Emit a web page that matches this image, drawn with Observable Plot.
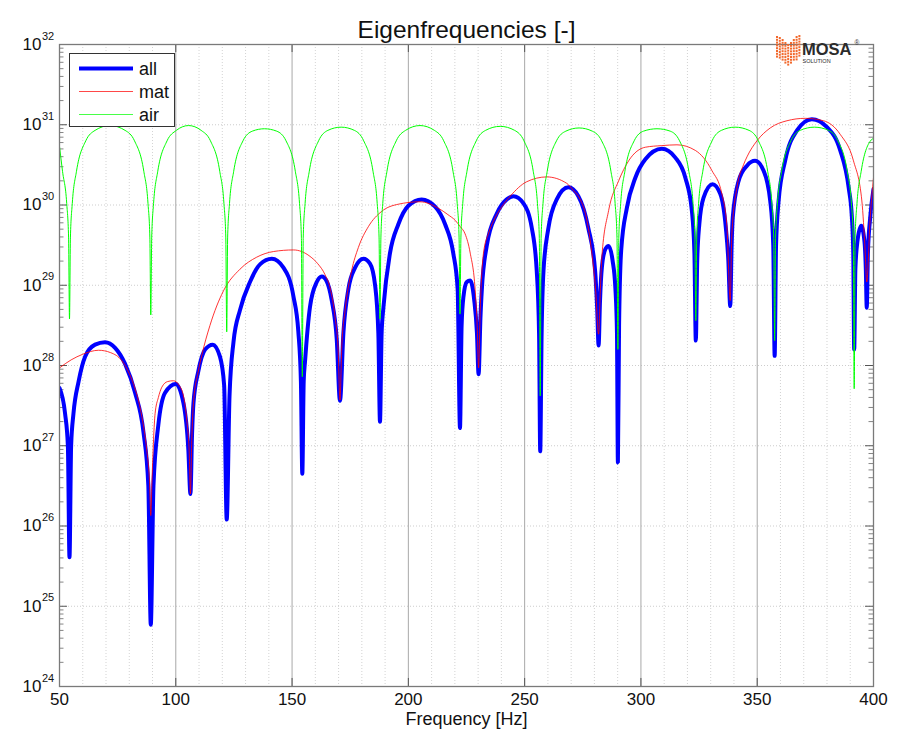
<!DOCTYPE html>
<html>
<head>
<meta charset="utf-8">
<script src="https://cdn.jsdelivr.net/npm/d3@7"></script>
<script src="https://cdn.jsdelivr.net/npm/@observablehq/plot@0.6"></script>
<style>
  html, body { margin: 0; padding: 0; background: #fff; }
  #wrap { position: relative; width: 899px; height: 736px; font-family: "Liberation Sans", Arial, sans-serif; }
  #legend { position: absolute; left: 69px; top: 53px; width: 106px; height: 74px; background: #fff; border: 1px solid #333; box-sizing: border-box; }
  #logo { position: absolute; left: 775px; top: 33px; width: 100px; height: 36px; }
</style>
</head>
<body>
<div id="wrap"></div>
<script>
// ---- Data (frequency in Hz, value as log10 exponent) ----
const allHz = [50,52.4,53.6,54.3,55.0,56.0,58.2,61.0,65.3,69.6,73.9,78.2,82.5,86.1,88.2,89.25,90.4,92.5,95.4,100.0,103.3,105.4,106.3,107.0,107.6,109.7,112.6,115.9,119.0,120.8,121.9,123.1,124.8,127.6,131.9,136.2,141.3,146.3,150.6,152.7,153.8,154.4,155.0,155.6,157.7,160.6,162.8,164.9,167.0,169.2,170.6,172.1,174.2,177.1,180.7,183.5,185.7,187.1,187.8,188.5,189.3,192.1,195.7,200.0,205.7,211.5,215.8,219.3,221.2,222.2,222.9,223.7,225.1,226.6,228.3,229.5,230.2,231.0,231.6,233.7,238.0,242.3,245.2,249.5,253.1,255.2,256.2,256.7,257.3,258.1,260.2,263.8,268.8,273.1,277.4,280.3,281.2,281.8,282.4,283.2,284.7,286.1,287.8,289.0,289.7,290.1,290.6,291.5,294.0,297.6,301.9,309.0,314.8,319.1,321.9,323.0,323.6,324.2,325.1,326.9,330.8,334.1,336.5,337.6,338.4,339.0,339.5,342.0,345.6,349.1,352.7,355.6,356.9,357.5,358.1,359.2,362.0,367.1,373.5,380.0,385.7,389.3,390.7,391.3,391.7,392.2,393.1,394.7,396.1,396.7,397.1,397.6,398.6,400];
const allLog = [27.72,27.40,27.0,25.61,27.0,27.40,27.80,28.11,28.26,28.29,28.22,28.02,27.66,27.17,26.50,24.77,26.5,27.26,27.66,27.77,27.53,26.95,26.40,27.15,27.53,27.93,28.2,28.26,28.11,27.75,26.08,27.62,28.29,28.69,29.04,29.26,29.33,29.22,28.86,28.42,27.8,26.65,27.8,28.06,28.73,29.04,29.11,29.05,28.82,28.33,27.56,28.42,28.95,29.22,29.33,29.27,29.0,28.4,27.30,28.4,28.73,29.40,29.76,29.99,30.07,29.98,29.76,29.40,28.95,27.22,28.5,28.86,29.04,29.06,28.82,28.4,27.89,28.6,28.95,29.49,29.89,30.07,30.11,30.02,29.71,29.18,28.4,26.93,28.4,29.18,29.71,30.07,30.22,30.11,29.71,29.18,28.7,28.25,28.8,29.22,29.45,29.49,29.31,28.97,28.4,26.79,28.5,29.43,29.97,30.34,30.57,30.70,30.59,30.34,29.93,29.4,28.31,29.3,29.76,30.09,30.26,30.14,29.72,29.3,28.74,29.5,29.85,30.30,30.49,30.55,30.43,30.05,29.5,28.12,29.5,30.05,30.55,30.93,31.07,30.97,30.68,30.22,29.85,29.4,28.20,29.2,29.55,29.74,29.55,29.2,28.72,29.4,29.85,30.2];

const matHz = [50,55,60,66.8,72,76.8,80,82.5,85.5,87.5,88.7,89.25,89.8,91.1,92.5,94.0,96.5,99.0,101.5,103.3,104.8,105.8,106.3,106.9,107.6,109.7,111.2,114.7,120.5,127.6,134.8,142.0,150.6,157.7,161,164.2,166.5,168.5,169.8,170.6,171.4,172.8,175.6,178.5,182.8,188.5,195.7,205.0,212.9,217,220.1,222.3,224.4,226.6,228.7,229.6,230.2,230.9,232.3,234.5,236.6,240,243.8,250.9,259.5,268.1,271,273.9,276.5,278.9,280.5,281.8,282.5,283.2,286.1,290.4,294.7,301.9,309.0,315.5,323.4,330.5,334.8,337.0,338.4,339.1,341.3,344.1,345.6,349.9,355.6,362.8,370.6,378.5,385.7,391.4,395.0,396.4,397.1,398.6,400];
const matLog = [27.97,28.07,28.14,28.19,28.16,28.06,27.9,27.71,27.35,26.95,26.55,26.13,26.6,27.4,27.6,27.73,27.8,27.81,27.75,27.62,27.3,26.9,26.40,27.1,27.53,27.93,28.13,28.5,28.93,29.2,29.35,29.42,29.44,29.36,29.27,29.13,28.95,28.6,28.2,27.57,28.25,28.69,29.18,29.47,29.73,29.92,30.01,30.04,29.96,29.88,29.81,29.73,29.64,29.4,28.95,28.5,27.97,28.7,29.4,29.65,29.8,29.97,30.11,30.29,30.35,30.27,30.18,30.07,29.85,29.4,28.95,28.39,28.9,29.35,29.93,30.30,30.55,30.72,30.74,30.75,30.68,30.43,30.14,29.72,28.81,29.64,30.22,30.5,30.6,30.8,30.96,31.05,31.08,31.05,30.88,30.55,30.05,29.43,29.04,29.85,30.34];

const airHz = [50,51.3,53.1,53.9,54.3,54.7,55.5,57.3,61.3,65.3,71.7,78.2,82.25,86.25,88.05,88.85,89.25,89.65,90.45,92.25,96.25,100.25,105.5,110.9,114.9,118.9,120.7,121.5,121.9,122.3,123.1,124.9,128.9,132.9,138.1,143.4,147.4,151.4,153.2,154.0,154.4,154.8,155.6,157.4,161.4,165.4,171.1,176.8,180.8,184.8,186.6,187.4,187.8,188.2,189.0,190.8,194.8,198.8,205.0,211.2,215.2,219.2,221.0,221.8,222.2,222.6,223.4,225.2,229.2,233.2,239.5,245.7,249.7,253.7,255.5,256.3,256.7,257.1,257.9,259.7,263.7,267.7,273.4,279.1,283.1,287.1,288.9,289.7,290.1,290.5,291.3,293.1,297.1,301.1,306.9,312.6,316.6,320.6,322.4,323.2,323.6,324.0,324.8,326.6,330.6,334.6,340.5,346.5,350.5,354.5,356.3,357.1,357.5,357.9,358.7,360.5,364.5,368.5,374.6,380.7,384.7,388.7,390.5,391.3,391.7,392.1,392.9,394.7,398.7,400];
const airLog = [30.73,30.42,30.02,29.6,28.58,29.6,30.02,30.42,30.8,30.93,30.99,30.93,30.8,30.42,30.02,29.6,28.63,29.6,30.02,30.42,30.8,30.93,30.99,30.93,30.8,30.42,30.02,29.6,28.42,29.6,30.02,30.42,30.8,30.92,30.95,30.92,30.8,30.42,30.02,29.6,27.86,29.6,30.02,30.42,30.8,30.93,30.97,30.93,30.8,30.42,30.02,29.6,28.58,29.6,30.02,30.42,30.8,30.93,30.99,30.93,30.8,30.42,30.02,29.6,28.64,29.6,30.02,30.42,30.8,30.93,30.98,30.93,30.8,30.42,30.02,29.6,27.62,29.6,30.02,30.42,30.8,30.92,30.96,30.92,30.8,30.42,30.02,29.6,28.20,29.6,30.02,30.42,30.8,30.92,30.95,30.92,30.8,30.42,30.02,29.6,28.56,29.6,30.02,30.42,30.8,30.93,30.97,30.93,30.8,30.42,30.02,29.6,28.31,29.6,30.02,30.42,30.8,30.93,30.97,30.93,30.8,30.42,30.02,29.6,27.71,29.6,30.02,30.42,30.8,30.83];

const seriesNames = ["all", "mat", "air"];
const seriesColors = ["#0000ff", "#ff0000", "#00ff00"];
const xTicks = [50, 100, 150, 200, 250, 300, 350, 400];
const xMajorGrid = [100, 150, 200, 250, 300, 350];
const xMinorGrid = [60,70,80,90,110,120,130,140,160,170,180,190,210,220,230,240,260,270,280,290,310,320,330,340,360,370,380,390];
const decadeExps = [24, 25, 26, 27, 28, 29, 30, 31, 32];
const minorMult = [2, 3, 4, 5, 6, 7, 8, 9];
const titleText = "Eigenfrequencies [-]";
const xLabel = "Frequency [Hz]";

// ---- Build tables ----
const toRows = (hz, lg) => hz.map((x, i) => ({hz: x, v: Math.pow(10, lg[i])}));
const allRows = toRows(allHz, allLog);
const matRows = toRows(matHz, matLog);
const airRows = toRows(airHz, airLog);
const decades = decadeExps.map(e => ({e, v: Math.pow(10, e)}));
const minors = [];
decadeExps.slice(0, -1).forEach(e => minorMult.forEach(m => minors.push(m * Math.pow(10, e))));

const tickLenMajorHz = 8 / 2.326, tickLenMinorHz = 4.5 / 2.326;
const gray = "#7a7a7a";

const chart = Plot.plot({
  width: 899, height: 736,
  marginTop: 44, marginLeft: 59, marginRight: 26, marginBottom: 50,
  x: {domain: [50, 400], axis: null},
  y: {type: "log", domain: [1e24, 1e32], axis: null},
  style: {fontFamily: "'Liberation Sans', Arial, sans-serif", background: "white", color: "#222"},
  marks: [
    // grid
    Plot.ruleX(xMinorGrid, {stroke: "#c8c8c8", strokeWidth: 0.8, strokeDasharray: "1,2"}),
    Plot.ruleY(decades, {y: "v", stroke: "#c0c0c0", strokeWidth: 0.8, strokeDasharray: "1,2"}),
    Plot.ruleX(xMajorGrid, {stroke: "#a8a8a8", strokeWidth: 1}),
    // inward ticks
    Plot.ruleX(xTicks, {y1: 1e24, y2: Math.pow(10, 24.1), stroke: "#555", strokeWidth: 1}),
    Plot.ruleX(xTicks, {y1: Math.pow(10, 31.9), y2: 1e32, stroke: "#555", strokeWidth: 1}),
    Plot.ruleY(decades, {y: "v", x1: 50, x2: 50 + tickLenMajorHz, stroke: "#555", strokeWidth: 1}),
    Plot.ruleY(decades, {y: "v", x1: 400 - tickLenMajorHz, x2: 400, stroke: "#555", strokeWidth: 1}),
    Plot.ruleY(minors, {x1: 50, x2: 50 + tickLenMinorHz, stroke: "#666", strokeWidth: 0.8}),
    Plot.ruleY(minors, {x1: 400 - tickLenMinorHz, x2: 400, stroke: "#666", strokeWidth: 0.8}),
    // data
    Plot.line(allRows, {x: "hz", y: "v", stroke: seriesColors[0], strokeWidth: 4, curve: "monotone-x", strokeLinejoin: "bevel", clip: true}),
    Plot.line(matRows, {x: "hz", y: "v", stroke: seriesColors[1], strokeWidth: 0.8, curve: "monotone-x", clip: true}),
    Plot.line(airRows, {x: "hz", y: "v", stroke: seriesColors[2], strokeWidth: 1, curve: "monotone-x", clip: true}),
    Plot.frame({stroke: gray, strokeWidth: 1.3}),
    // tick labels
    Plot.text(xTicks, {x: d => d, frameAnchor: "bottom", dy: 18, fontSize: 17, fill: "#111"}),
    Plot.text(decades, {y: "v", text: () => "10", frameAnchor: "left", textAnchor: "end", dx: -18, fontSize: 17, fill: "#111"}),
    Plot.text(decades, {y: "v", text: d => String(d.e), frameAnchor: "left", textAnchor: "start", dx: -17.5, dy: -8.5, fontSize: 11, fill: "#111"}),
    // labels
    Plot.text([xLabel], {frameAnchor: "bottom", dy: 38, fontSize: 18, fill: "#111"}),
    Plot.text([titleText], {frameAnchor: "top", dy: -24, fontSize: 24.5, fill: "#111"})
  ]
});

const wrap = document.getElementById("wrap");
wrap.appendChild(chart);

// ---- Legend ----
const legend = document.createElement("div");
legend.id = "legend";
const ns = "http://www.w3.org/2000/svg";
const lsvg = document.createElementNS(ns, "svg");
lsvg.setAttribute("width", "104"); lsvg.setAttribute("height", "72");
seriesNames.forEach((name, i) => {
  const yy = 14.5 + i * 23;
  const ln = document.createElementNS(ns, "line");
  ln.setAttribute("x1", 9); ln.setAttribute("x2", 63);
  ln.setAttribute("y1", yy); ln.setAttribute("y2", yy);
  ln.setAttribute("stroke", seriesColors[i]);
  ln.setAttribute("stroke-width", i === 0 ? 4 : 0.9);
  ln.setAttribute("stroke-opacity", i === 0 ? 1 : 0.8);
  lsvg.appendChild(ln);
  const tx = document.createElementNS(ns, "text");
  tx.setAttribute("x", 69); tx.setAttribute("y", yy + 6);
  tx.setAttribute("font-size", "18"); tx.setAttribute("fill", "#111");
  tx.setAttribute("font-family", "Liberation Sans, Arial, sans-serif");
  tx.textContent = name;
  lsvg.appendChild(tx);
});
legend.appendChild(lsvg);
wrap.appendChild(legend);

// ---- Logo ----
const logo = document.createElement("div");
logo.id = "logo";
const gsvg = document.createElementNS(ns, "svg");
gsvg.setAttribute("width", "100"); gsvg.setAttribute("height", "36");
const colTop = [3, 4, 6, 9, 11, 9, 6, 3, 2];
const colBot = [24, 26, 28, 30, 32, 30, 28, 26, 24];
colTop.forEach((t, c) => {
  for (let r = t; r <= colBot[c]; r += 2.8) {
    const rc = document.createElementNS(ns, "rect");
    rc.setAttribute("x", 1 + c * 2.8); rc.setAttribute("y", r);
    rc.setAttribute("width", 2); rc.setAttribute("height", 2);
    rc.setAttribute("fill", "#f26a2e");
    gsvg.appendChild(rc);
  }
});
const m = document.createElementNS(ns, "text");
m.setAttribute("x", 27); m.setAttribute("y", 22);
m.setAttribute("font-size", "16.5"); m.setAttribute("font-weight", "bold");
m.setAttribute("fill", "#2b2b2b"); m.setAttribute("font-family", "Liberation Sans, Arial, sans-serif");
m.textContent = "MOSA";
gsvg.appendChild(m);
const reg = document.createElementNS(ns, "text");
reg.setAttribute("x", 79.5); reg.setAttribute("y", 12);
reg.setAttribute("font-size", "6.5"); reg.setAttribute("fill", "#2b2b2b");
reg.setAttribute("font-family", "Liberation Sans, Arial, sans-serif");
reg.textContent = "®";
gsvg.appendChild(reg);
const sol = document.createElementNS(ns, "text");
sol.setAttribute("x", 27.5); sol.setAttribute("y", 30);
sol.setAttribute("font-size", "5.5"); sol.setAttribute("fill", "#2b2b2b");
sol.setAttribute("font-family", "Liberation Sans, Arial, sans-serif");
sol.textContent = "SOLUTION";
gsvg.appendChild(sol);
logo.appendChild(gsvg);
wrap.appendChild(logo);
</script>
</body>
</html>
